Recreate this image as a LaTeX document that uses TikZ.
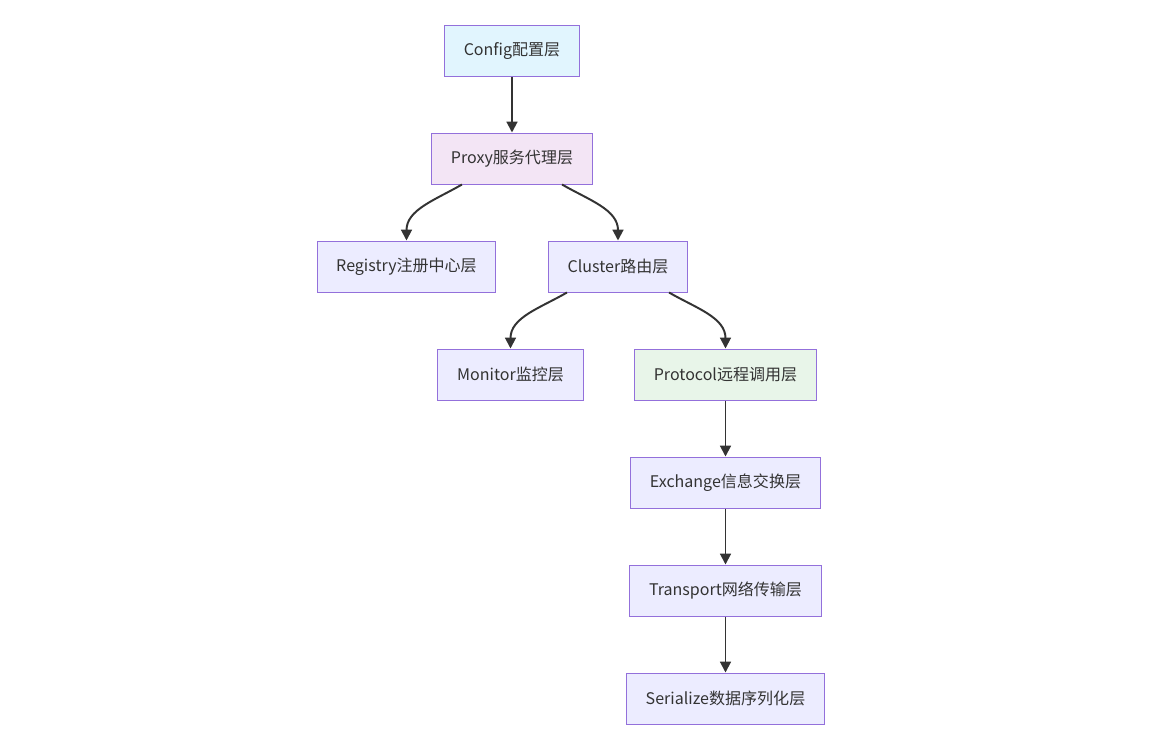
\documentclass[tikz,border=0pt]{standalone}
\usepackage{fontspec}
\setmainfont{Noto Sans CJK SC}
\usepackage{tikz}
\usetikzlibrary{arrows.meta}

\definecolor{nodefill}{HTML}{ECECFF}
\definecolor{nodeline}{HTML}{9370DB}
\definecolor{configfill}{HTML}{E1F5FE}
\definecolor{proxyfill}{HTML}{F3E5F5}
\definecolor{protofill}{HTML}{E8F5E9}
\definecolor{edgecol}{HTML}{333333}

\begin{document}
\begin{tikzpicture}[x=0.025cm,y=-0.025cm,
        layer/.style={rectangle,draw=nodeline,line width=0.7pt,fill=nodefill,text=edgecol,
            minimum height=1.275cm,inner xsep=0.48cm,font=\fontsize{11.4}{13}\selectfont},
        link/.style={draw=edgecol,line width=1.4pt,-{Triangle[length=0.27cm,width=0.27cm]}}]

    \useasboundingbox (0,0) rectangle (1160,743);

    % Level 0
    \node[layer,fill=configfill] (config) at (512,51) {Config配置层};

    % Level 1
    \node[layer,fill=proxyfill] (proxy) at (512,158.5) {Proxy服务代理层};

    % Level 2
    \node[layer] (registry) at (406.5,266.5) {Registry注册中心层};
    \node[layer] (cluster) at (618,266.5) {Cluster路由层};

    % Level 3
    \node[layer] (monitor) at (510.5,374.5) {Monitor监控层};
    \node[layer,fill=protofill] (protocol) at (725.5,374.5) {Protocol远程调用层};

    % Level 4 to 6
    \node[layer] (exchange) at (725.5,482.5) {Exchange信息交换层};
    \node[layer] (transport) at (725.5,590.5) {Transport网络传输层};
    \node[layer] (serialize) at (725.5,698.5) {Serialize数据序列化层};

    % Edges
    \draw[link] (config) -- (proxy);
    \draw[link] ([xshift=-1.25cm]proxy.south) to[out=-150,in=90] (registry.north);
    \draw[link] ([xshift=1.25cm]proxy.south) to[out=-30,in=90] (cluster.north);
    \draw[link] ([xshift=-1.275cm]cluster.south) to[out=-150,in=90] (monitor.north);
    \draw[link] ([xshift=1.275cm]cluster.south) to[out=-30,in=90] (protocol.north);
    \draw[link] (protocol) -- (exchange);
    \draw[link] (exchange) -- (transport);
    \draw[link] (transport) -- (serialize);
\end{tikzpicture}
\end{document}
